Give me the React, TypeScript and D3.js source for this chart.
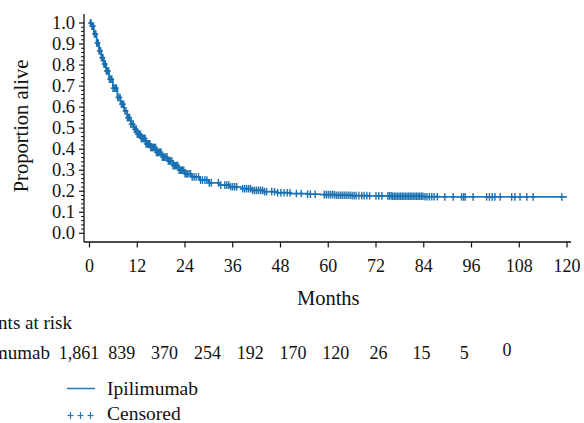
import React from 'react';
import * as d3 from 'd3';

// Kaplan-Meier estimate (months, proportion alive)
const kmTimes = [0, 0.5, 1.1, 1.8, 2.4, 3.0, 3.6, 4.2, 4.9, 5.9, 7.0, 7.8, 8.7, 9.5, 10.4, 11.2, 12.0, 13.0, 14.2, 15.4, 16.8, 18.2, 19.6, 21.0, 22.5, 24.0, 25.8, 27.8, 30.0, 32.5, 35.3, 38.0, 41.0, 43.7, 47.0, 50.5, 54.6, 58.0, 62.0, 66.0, 70.0, 76.0, 84.0, 88.0, 120];
const kmSurv = [1.0, 0.985, 0.948, 0.905, 0.868, 0.835, 0.805, 0.772, 0.733, 0.69, 0.646, 0.614, 0.582, 0.55, 0.519, 0.494, 0.471, 0.451, 0.425, 0.408, 0.385, 0.362, 0.344, 0.322, 0.3, 0.283, 0.268, 0.253, 0.24, 0.229, 0.221, 0.212, 0.204, 0.198, 0.193, 0.189, 0.186, 0.184, 0.181, 0.179, 0.178, 0.176, 0.174, 0.173, 0.173];

const censorTimes = [
  0.2, 0.4, 0.6, 0.8, 1.0, 1.2, 1.4, 1.6, 1.8, 2.0, 2.2, 2.4, 2.6, 2.8, 3.0, 3.2, 3.4, 3.6, 3.8, 4.0, 4.2, 4.4, 4.6, 4.8, 5.0, 5.3, 5.6, 5.9, 6.2, 6.5, 6.8, 7.1, 7.4, 7.7, 8.0, 8.3, 8.6, 8.9, 9.2, 9.5, 9.8, 10.1, 10.4, 10.7, 11.0, 11.3, 11.6, 11.8,
  12.0, 12.2, 12.4, 12.6, 12.8, 13.0, 13.2, 13.4, 13.6, 13.8, 14.0, 14.2, 14.4, 14.6, 14.8, 15.0, 15.2, 15.4, 15.6, 15.8, 16.0, 16.2, 16.4, 16.6, 16.8, 17.0, 17.2, 17.4, 17.6, 17.8, 18.0, 18.3, 18.6, 18.9, 19.2, 19.5, 19.8, 20.1, 20.4, 20.7,
  21.0, 21.3, 21.6, 21.9, 22.2, 22.5, 22.8, 23.1, 23.4, 23.7, 24.0, 24.3, 24.6, 25.0, 25.4, 25.8, 26.3, 26.8,
  27.4, 27.9, 28.4, 29.0, 29.5, 30.1, 30.6, 32.4, 33.0,
  34.0, 34.5, 35.0, 35.5, 36.0, 36.5, 37.0,
  38.5, 39.0, 39.5, 40.0, 40.5, 41.0, 41.5, 42.0, 42.5, 43.0, 43.5, 44.0, 44.5,
  45.8, 46.5, 47.3, 48.1, 48.9, 49.7, 50.4, 52.0, 53.2, 54.8, 55.5, 56.7,
  59.0, 59.5, 60.0, 60.5, 61.0, 61.5, 62.0, 62.5, 63.0, 63.5, 64.0, 64.5, 65.0, 65.5, 66.0, 66.5, 67.0, 67.7, 68.4, 69.0, 69.7, 70.4,
  72.0, 72.7, 73.5,
  75.0, 75.4, 75.8, 76.2, 76.6, 77.0, 77.4, 77.8, 78.2, 78.6, 79.0, 79.4, 79.8, 80.2, 80.6, 81.0, 81.4, 81.8, 82.2, 82.6, 83.0, 83.4, 83.8,
  84.3, 84.8, 85.4, 86.0, 86.6, 87.4,
  89.3, 91.4, 93.5, 94.0, 94.4, 96.4, 99.8, 100.5, 101.2, 101.9, 103.2, 106.1, 106.9, 108.2, 109.9, 111.5, 118.7,
];

const xTicks = [0, 12, 24, 36, 48, 60, 72, 84, 96, 108, 120];
const yTicks = [0, 0.1, 0.2, 0.3, 0.4, 0.5, 0.6, 0.7, 0.8, 0.9, 1.0];
const riskCounts = ['1,861', '839', '370', '254', '192', '170', '120', '26', '15', '5', '0'];

const BLUE = '#1f7bc0';
const MARK = '#1b70b0';
const INK = '#111';
const FONT = '"Liberation Serif", "DejaVu Serif", serif';

const survAt = (t: number) => {
  let s = 1;
  for (let i = 0; i < kmTimes.length; i++) if (kmTimes[i] <= t) s = kmSurv[i];
  return s;
};

export default function App() {
  const x = d3.scaleLinear().domain([0, 120]).range([89.5, 567]);
  const y = d3.scaleLinear().domain([0, 1]).range([233.3, 23]);
  const riskX = d3.scaleLinear().domain([0, 120]).range([79, 507]);

  const pts: [number, number][] = kmTimes.map((t, i) => [t, kmSurv[i]]);
  const line = d3.line<[number, number]>()
    .x(d => x(d[0]))
    .y(d => y(d[1]))
    .curve(d3.curveStepAfter);

  const minor = d3.range(0, 51).map(i => i * 0.02).filter(v => Math.round(v * 50) % 5 !== 0);

  const plus = (cx: number, cy: number, key: string | number) => (
    <g key={key}>
      <line x1={cx} x2={cx} y1={cy - 3.8} y2={cy + 3.8} stroke={MARK} strokeWidth={1.4} />
      <line x1={cx - 2.2} x2={cx + 2.2} y1={cy} y2={cy} stroke={MARK} strokeWidth={1.4} />
    </g>
  );

  return (
    <svg width={584} height={423} style={{ position: 'absolute', left: 0, top: 0, background: '#fff' }} fontFamily={FONT}>
      {/* axes */}
      <line x1={84} x2={84} y1={14} y2={242} stroke={INK} strokeWidth={1.3} />
      <line x1={84} x2={571} y1={242} y2={242} stroke={INK} strokeWidth={1.3} />
      {yTicks.map(v => (
        <g key={'y' + v}>
          <line x1={79} x2={84} y1={y(v)} y2={y(v)} stroke={INK} strokeWidth={1.2} />
          <text x={75} y={y(v) + 6} textAnchor="end" fontSize={18.5} fill={INK}>{v.toFixed(1)}</text>
        </g>
      ))}
      {minor.map(v => (
        <line key={'m' + v} x1={81} x2={84} y1={y(v)} y2={y(v)} stroke={INK} strokeWidth={1} />
      ))}
      {xTicks.map(v => (
        <g key={'x' + v}>
          <line x1={x(v)} x2={x(v)} y1={242} y2={247.5} stroke={INK} strokeWidth={1.2} />
          <text x={x(v)} y={271.5} textAnchor="middle" fontSize={18} fill={INK}>{v}</text>
        </g>
      ))}
      <text x={x(60)} y={304.5} textAnchor="middle" fontSize={20.5} fill={INK}>Months</text>
      <text transform="translate(28,126) rotate(-90)" textAnchor="middle" fontSize={20.5} fill={INK}>Proportion alive</text>

      {/* survival curve and censor marks */}
      <path d={line(pts) || ''} fill="none" stroke={BLUE} strokeWidth={1.8} />
      {censorTimes.map((t, i) => plus(x(t), y(survAt(t)), i))}

      {/* numbers at risk */}
      <text x={72} y={329} textAnchor="end" fontSize={19} fill={INK}>Patients at risk</text>
      <text x={50} y={359} textAnchor="end" fontSize={19} fill={INK}>Ipilimumab</text>
      {riskCounts.map((c, i) => (
        <text key={'r' + i} x={riskX(xTicks[i])} y={i === riskCounts.length - 1 ? 356 : 359} textAnchor="middle" fontSize={18} fill={INK}>{c}</text>
      ))}

      {/* legend */}
      <line x1={67} x2={95} y1={388.5} y2={388.5} stroke={BLUE} strokeWidth={1.5} />
      <text x={107} y={395} fontSize={19.5} fill={INK}>Ipilimumab</text>
      {[70.5, 80.5, 90.5].map((cx, i) => (
        <g key={'lp' + i}>
          <line x1={cx} x2={cx} y1={412} y2={419} stroke={BLUE} strokeWidth={1.2} />
          <line x1={cx - 3} x2={cx + 3} y1={415.5} y2={415.5} stroke={BLUE} strokeWidth={1.2} />
        </g>
      ))}
      <text x={107} y={420} fontSize={19.5} fill={INK}>Censored</text>
    </svg>
  );
}
